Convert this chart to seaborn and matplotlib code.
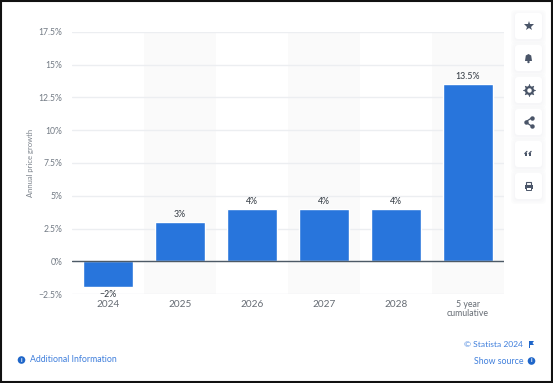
import matplotlib
matplotlib.use("Agg")
import matplotlib.pyplot as plt
from matplotlib.patches import FancyBboxPatch, Rectangle, Circle, Polygon
import pandas as pd
import seaborn as sns

categories = ["2024", "2025", "2026", "2027", "2028", "5 year\ncumulative"]
growth = [-2, 3, 4, 4, 4, 13.5]
bar_labels = ["−2%", "3%", "4%", "4%", "4%", "13.5%"]
y_ticks = [-2.5, 0, 2.5, 5, 7.5, 10, 12.5, 15, 17.5]
y_tick_labels = ["−2.5%", "0%", "2.5%", "5%", "7.5%", "10%", "12.5%", "15%", "17.5%"]
y_title = "Annual price growth"
shaded_bands = [1, 3, 5]

W, H = 553, 383
sns.set_theme(style="white")
plt.rcParams["font.family"] = ["Lato", "DejaVu Sans"]

fig = plt.figure(figsize=(W / 100, H / 100), dpi=100, facecolor="white")
ax = fig.add_axes([72 / W, 1 - 294 / H, (504 - 72) / W, (294 - 32) / H])

df = pd.DataFrame({"category": categories, "growth": growth})
sns.barplot(data=df, x="category", y="growth", color="#2875dc", saturation=1,
            width=0.69, ax=ax, zorder=3)

ax.set_xlim(-0.5, 5.5)
ax.set_ylim(-2.5, 17.5)
for b in shaded_bands:
    ax.axvspan(b - 0.5, b + 0.5, color="#fafafa", lw=0, zorder=0)
ax.set_yticks(y_ticks, y_tick_labels)
ax.grid(axis="y", color="#eceef1", lw=1, zorder=1)
ax.grid(axis="x", visible=False)
ax.axhline(0, color="#4d5a66", lw=1.0, zorder=4)
for s in ax.spines.values():
    s.set_visible(False)
ax.tick_params(axis="y", length=0, pad=6.8, labelsize=6.2, labelcolor="#737b85")
ax.tick_params(axis="x", length=0, pad=4.5, labelsize=7.2, labelcolor="#666c74")
for t in ax.get_xticklabels():
    t.set_linespacing(0.95)
ax.get_xticklabels()[-1].set_fontsize(6.3)
ax.set_xlabel("")
ax.set_ylabel("")
fig.text(31 / W, 1 - 162.5 / H, y_title, rotation=90, ha="center", va="center",
         fontsize=5.5, color="#7b828b")

for i, (v, lab) in enumerate(zip(growth, bar_labels)):
    if v >= 0:
        ax.annotate(lab, (i, v), xytext=(0, 2.2), textcoords="offset points",
                    ha="center", va="bottom", fontsize=6.3, color="#3a4149",
                    fontweight="medium", zorder=5)
    else:
        ax.annotate(lab, (i, v), xytext=(0, -1.5), textcoords="offset points",
                    ha="center", va="top", fontsize=6.3, color="#3a4149",
                    fontweight="medium", zorder=5, annotation_clip=False)

# overlay in pixel coordinates (page furniture)
ov = fig.add_axes([0, 0, 1, 1], facecolor="none")
ov.set_xlim(0, W)
ov.set_ylim(H, 0)
ov.axis("off")

link = "#3f7fdc"
ov.text(30, 360, "Additional Information", fontsize=6.35, color=link, va="center")
ov.add_patch(Circle((21.5, 360), 3.8, color="#1f66c9", lw=0))
ov.text(21.5, 360, "i", fontsize=4.5, color="white", ha="center", va="center", fontweight="bold")
ov.text(523, 344.5, "© Statista 2024", fontsize=6.1, color=link, ha="right", va="center")
ov.add_patch(Polygon([(529, 341), (529, 348), (530, 348), (530, 345), (534, 345), (532.5, 343), (534, 341)],
                     color="#1f66c9", lw=0))
ov.text(523, 361, "Show source", fontsize=6.3, color=link, ha="right", va="center")
ov.add_patch(Circle((531.5, 361), 3.8, color="#1f66c9", lw=0))
ov.text(531.5, 361, "i", fontsize=4.5, color="white", ha="center", va="center", fontweight="bold")

# side buttons
icon = "#4a5568"
centers = [26, 58, 90, 122, 154, 186]
cx = 528.5
for cy in centers:
    for grow, a in [(4, 0.25), (2.5, 0.35), (1, 0.5)]:
        ov.add_patch(FancyBboxPatch((515 - grow, cy - 13 - grow + 1), 27 + 2 * grow, 26 + 2 * grow,
                                    boxstyle="round,pad=0,rounding_size=4",
                                    fc="#f4f5f7", ec="none", alpha=a, zorder=1))
    ov.add_patch(FancyBboxPatch((515, cy - 13), 27, 26, boxstyle="round,pad=0,rounding_size=3",
                                fc="white", ec="none", zorder=2))
ov.plot([cx], [26], marker="*", ms=7.5, color=icon, mew=0, zorder=3)
# bell
ov.add_patch(Polygon([(cx - 3.5, 61), (cx - 2.7, 55.5), (cx, 54), (cx + 2.7, 55.5), (cx + 3.5, 61)],
                     color=icon, lw=0, zorder=3))
ov.add_patch(Circle((cx, 62), 1.2, color=icon, lw=0, zorder=3))
# gear
ov.plot([cx], [90], marker=(8, 1, 0), ms=9, mfc=icon, mec=icon, mew=0.4, zorder=3)
ov.plot([cx], [90], marker="o", ms=6.5, mfc=icon, mec=icon, mew=0, zorder=3)
ov.plot([cx], [90], marker="o", ms=3.2, mfc="white", mec="white", mew=0, zorder=4)
# share
ov.plot([cx + 3, cx - 3, cx + 3], [118, 122, 126], color=icon, lw=0.9, marker="o", ms=3.2, mew=0, zorder=3)
# quote
for qx in (cx - 2.6, cx + 1.6):
    ov.add_patch(Rectangle((qx - 1.1, 153.2), 2.2, 2.8, color=icon, lw=0, zorder=3))
    ov.plot([qx - 1.1, qx + 1.0], [153.6, 151.4], color=icon, lw=0.9, zorder=3)
# printer
ov.add_patch(Rectangle((cx - 2.7, 181.5), 5.4, 3, fc="none", ec=icon, lw=0.8, zorder=3))
ov.add_patch(Rectangle((cx - 4, 184.5), 8, 4, fc=icon, ec="none", zorder=3))
ov.add_patch(Rectangle((cx - 2.7, 187), 5.4, 3, fc="white", ec=icon, lw=0.7, zorder=4))

# black frame
ov.add_patch(Rectangle((0.5, 0.5), W - 1.5, H - 1.5, fc="none", ec="#111111", lw=1.5, zorder=10))

fig.savefig("out.png", dpi=100, facecolor="white")
